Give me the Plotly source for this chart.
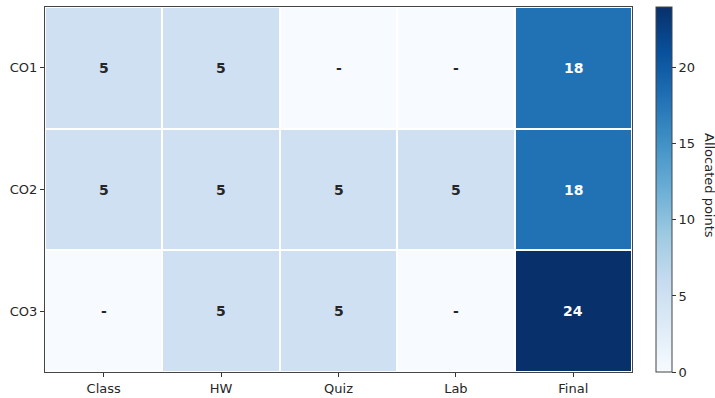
import plotly.graph_objects as go
import plotly.colors as pc

columns = ["Class", "HW", "Quiz", "Lab", "Final"]
rows = ["CO1", "CO2", "CO3"]
co1 = [5, 5, 0, 0, 18]
co2 = [5, 5, 5, 5, 18]
co3 = [0, 5, 5, 0, 24]
values = [co1, co2, co3]
zmax = 24
cbar_title = "Allocated points"

blues = pc.sequential.Blues
n = len(blues)
cscale = [[i / (n - 1), c] for i, c in enumerate(blues)]

L, R, T, B = 45, 83, 7, 26
W, H = 715, 398
pw = W - L - R

fig = go.Figure()
fig.add_trace(go.Heatmap(
    z=values, x=columns, y=rows,
    colorscale=cscale, zmin=0, zmax=zmax,
    xgap=2, ygap=2, hoverinfo="skip",
    colorbar=dict(
        x=(656 - L) / pw, xanchor="left", xpad=0, y=0.5, yanchor="middle", ypad=0,
        len=1, lenmode="fraction", thickness=16,
        outlinewidth=1, outlinecolor="#444",
        ticks="outside", ticklen=4, tickcolor="#333", tickwidth=1,
        tickvals=[0, 5, 10, 15, 20],
        tickfont=dict(family="DejaVu Sans", size=13, color="#262626"),
    ),
))

for r, rowvals in zip(rows, values):
    for c, v in zip(columns, rowvals):
        txt = "-" if v == 0 else str(v)
        col = "white" if v > zmax * 0.5 else "#262626"
        fig.add_annotation(x=c, y=r, text=f"<b>{txt}</b>", showarrow=False,
                           font=dict(family="DejaVu Sans", size=14, color=col))

fig.add_annotation(x=(700 - L) / pw, y=0.5, xref="paper", yref="paper",
                   xanchor="left", yanchor="middle", yshift=4,
                   text=cbar_title, textangle=90, showarrow=False,
                   font=dict(family="DejaVu Sans", size=13, color="#262626"))

fig.update_layout(
    width=W, height=H,
    margin=dict(l=L, r=R, t=T, b=B, autoexpand=False),
    plot_bgcolor="white", paper_bgcolor="white",
    font=dict(family="DejaVu Sans", size=13, color="#262626"),
    xaxis=dict(showline=True, linecolor="#444", linewidth=1, mirror=True,
               ticks="outside", ticklen=4, tickcolor="#333", showgrid=False,
               zeroline=False, automargin=False, tickfont=dict(size=13)),
    yaxis=dict(showline=True, linecolor="#444", linewidth=1, mirror=True,
               ticks="outside", ticklen=4, tickcolor="#333", showgrid=False,
               zeroline=False, autorange="reversed", automargin=False,
               tickfont=dict(size=13)),
)

fig.write_html("out.html", config={"displayModeBar": False},
               post_script="document.body.style.margin='0px';")
